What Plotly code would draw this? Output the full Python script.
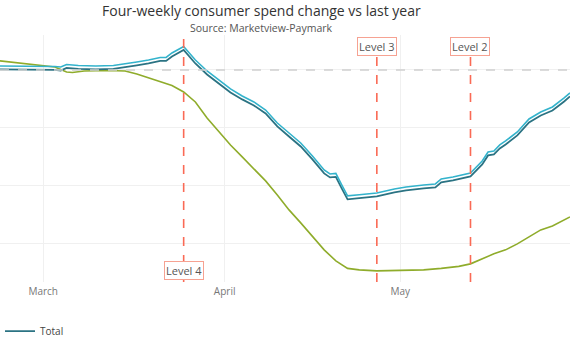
import plotly.graph_objects as go

# ---- data ----
total_dates = ["2020-02-22","2020-02-26","2020-03-01","2020-03-03","2020-03-04","2020-03-05","2020-03-07",
               "2020-03-10","2020-03-13","2020-03-15","2020-03-17","2020-03-19","2020-03-21","2020-03-22",
               "2020-03-23","2020-03-25","2020-03-27","2020-03-29","2020-03-31","2020-04-02","2020-04-04",
               "2020-04-06","2020-04-08","2020-04-09","2020-04-10","2020-04-12","2020-04-14","2020-04-16",
               "2020-04-18","2020-04-19","2020-04-20","2020-04-21","2020-04-22","2020-04-24","2020-04-27",
               "2020-04-30","2020-05-02","2020-05-05","2020-05-07","2020-05-08","2020-05-10","2020-05-13",
               "2020-05-15","2020-05-16","2020-05-17","2020-05-18","2020-05-19","2020-05-21","2020-05-23",
               "2020-05-25","2020-05-27","2020-05-29","2020-05-30"]
total_values = [0.09,0.09,0.12,0.0,-0.09,0.35,0.17,
                0.09,0.17,0.43,0.78,1.12,1.56,1.56,
                2.34,3.46,1.12,-0.78,-2.34,-3.89,-5.10,
                -6.14,-7.53,-8.74,-9.78,-11.51,-13.24,-15.48,
                -17.91,-18.6,-18.5,-20.5,-22.4,-22.2,-21.89,
                -21.19,-20.85,-20.50,-20.33,-19.46,-19.12,-18.43,
                -16.35,-14.79,-14.62,-13.58,-12.89,-11.33,-9.08,
                -7.87,-7.01,-5.45,-4.58]

other_dates = ["2020-02-22","2020-02-26","2020-03-01","2020-03-03","2020-03-04","2020-03-05","2020-03-06",
               "2020-03-08","2020-03-12","2020-03-15","2020-03-17","2020-03-19","2020-03-21","2020-03-23",
               "2020-03-25","2020-03-27","2020-03-29","2020-03-31","2020-04-02","2020-04-04","2020-04-06",
               "2020-04-08","2020-04-10","2020-04-12","2020-04-14","2020-04-16","2020-04-18","2020-04-20",
               "2020-04-22","2020-04-24","2020-04-27","2020-05-01","2020-05-05","2020-05-08","2020-05-11",
               "2020-05-13","2020-05-15","2020-05-17","2020-05-19","2020-05-21","2020-05-23","2020-05-25",
               "2020-05-27","2020-05-29","2020-05-30"]
other_values = [1.64,1.21,0.78,0.52,0.09,-0.35,-0.43,
                -0.17,-0.09,-0.17,-0.69,-1.38,-1.99,-2.68,
                -3.81,-5.54,-8.30,-10.73,-12.98,-15.05,-17.13,
                -19.20,-21.63,-24.22,-26.47,-28.89,-31.14,-33.04,
                -34.34,-34.60,-34.78,-34.69,-34.60,-34.34,-34.00,
                -33.56,-32.70,-31.83,-31.14,-30.10,-28.89,-27.68,
                -26.99,-25.95,-25.43]

level_dates = ["2020-03-25", "2020-04-27", "2020-05-13"]
level_labels = ["Level 4", "Level 3", "Level 2"]
level_label_y = [0.045, 0.955, 0.955]

title_text = "Four-weekly consumer spend change vs last year"
subtitle_text = "Source: Marketview-Paymark"

y_range = [-36.7, 6.05]
shift = 0.6

fig = go.Figure()
fig.add_trace(go.Scatter(x=other_dates, y=other_values, mode="lines", name="Other",
                         line=dict(color="#8fac2b", width=1.6), showlegend=False))
fig.add_trace(go.Scatter(x=total_dates, y=total_values, mode="lines", name="Total",
                         line=dict(color="#2b7383", width=1.8)))
fig.add_trace(go.Scatter(x=total_dates, y=total_values, mode="lines", name="Total",
                         line=dict(color="#33b3cc", width=1.6), yaxis="y2", showlegend=False,
                         hoverinfo="skip"))

shapes = [dict(type="line", xref="paper", yref="y", x0=0, x1=1, y0=0, y1=0,
               line=dict(color="#cfcfcf", width=1.5, dash="dash"))]
annotations = [
    dict(text=title_text, xref="paper", yref="paper", x=261 / 570, y=1 + 24 / 247, xanchor="center",
         yanchor="middle", showarrow=False, font=dict(size=14, color="#333")),
    dict(text=subtitle_text, xref="paper", yref="paper", x=261 / 570, y=1 + 7 / 247, xanchor="center",
         yanchor="middle", showarrow=False, font=dict(size=10.5, color="#555")),
]
for d, lab, ly in zip(level_dates, level_labels, level_label_y):
    shapes.append(dict(type="line", xref="x", yref="paper", x0=d, x1=d, y0=0, y1=0.99,
                       line=dict(color="#fa6a55", width=1.6, dash="dash")))
    annotations.append(dict(x=d, xref="x", y=ly, yref="paper", text=lab, showarrow=False,
                            xanchor="center", yanchor="middle",
                            font=dict(size=11, color="#555555"), bgcolor="white",
                            bordercolor="#f6a292", borderwidth=1, borderpad=1))

fig.update_layout(
    width=570, height=350,
    margin=dict(l=0, r=0, t=35, b=68),
    paper_bgcolor="white", plot_bgcolor="white",
    font=dict(family="Open Sans, DejaVu Sans, sans-serif", color="#444"),
    xaxis=dict(range=["2020-02-22 15:00", "2020-05-30 00:00"], tickvals=["2020-03-01", "2020-04-01", "2020-05-01"],
               ticktext=["March", "April", "May"], showgrid=True, gridcolor="#f0f0f0",
               tickfont=dict(size=10, color="#777"), showline=False, zeroline=False, ticks="",
               ticklabelstandoff=2),
    yaxis=dict(range=y_range, dtick=10, showticklabels=False, showgrid=True, gridcolor="#f0f0f0",
               zeroline=False),
    yaxis2=dict(range=[y_range[0] - shift, y_range[1] - shift], overlaying="y", visible=False),
    legend=dict(orientation="h", x=0, xanchor="left", y=-0.14, yanchor="top", font=dict(size=10, color="#444")),
    shapes=shapes, annotations=annotations,
)
fig.write_html("out.html")
